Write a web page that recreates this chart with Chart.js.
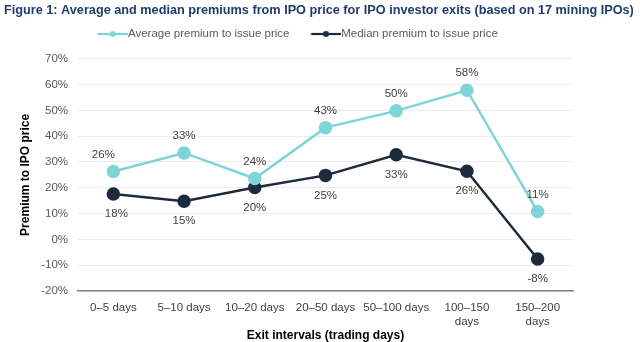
<!DOCTYPE html>
<html><head><meta charset="utf-8">
<script src="https://cdn.jsdelivr.net/npm/chart.js@4/dist/chart.umd.min.js"></script>
<style>html,body{margin:0;padding:0;background:#fff}#wrap{width:640px;height:342px}</style>
</head><body><div id="wrap"><canvas id="c" width="640" height="342"></canvas></div>
<script>
const categories = [["0–5 days"], ["5–10 days"], ["10–20 days"], ["20–50 days"], ["50–100 days"], ["100–150", "days"], ["150–200", "days"]];
const averagePremium = [26.3, 33.5, 23.6, 43.3, 49.8, 57.8, 10.8];
const medianPremium = [17.6, 14.8, 20.1, 24.8, 32.8, 26.4, -7.6];
const averageLabels = ["26%", "33%", "24%", "43%", "50%", "58%", "11%"];
const medianLabels = ["18%", "15%", "20%", "25%", "33%", "26%", "-8%"];
const yTicks = [-20, -10, 0, 10, 20, 30, 40, 50, 60, 70];
const titleText = "Figure 1: Average and median premiums from IPO price for IPO investor exits (based on 17 mining IPOs)";

const FONT = "'Liberation Sans', Arial, sans-serif";
const avgColor = "#7fd4d6";
const medColor = "#1d2b3c";

// legend icon: line + small dot, drawn into a canvas used as pointStyle
function legendIcon(color) {
  const c = document.createElement('canvas');
  c.width = 48; c.height = 12;
  const g = c.getContext('2d');
  g.strokeStyle = color; g.lineWidth = 2.2;
  g.beginPath(); g.moveTo(17.5, 6); g.lineTo(48, 6); g.stroke();
  g.fillStyle = color; g.beginPath(); g.arc(32.5, 6, 3, 0, Math.PI * 2); g.fill();
  return c;
}

// fit title font to target width
const mc = document.createElement('canvas').getContext('2d');
let titleSize = 16;
while (titleSize > 8) {
  mc.font = "bold " + titleSize + "px " + FONT;
  if (mc.measureText(titleText).width <= 631) break;
  titleSize -= 0.1;
}

const labelPlugin = {
  id: 'pointLabels',
  afterDatasetsDraw(chart) {
    const ctx = chart.ctx;
    ctx.save();
    ctx.font = "11.5px " + FONT;
    ctx.fillStyle = "#404040";
    ctx.textAlign = "center";
    ctx.textBaseline = "middle";
    const sets = [[0, averageLabels, -17, [-10, 0, 0, 0, 0, 0, 0]], [1, medianLabels, 20, [3, 0, 0, 0, 0, 0, 0]]];
    sets.forEach(([di, labels, dy, dxs]) => {
      const meta = chart.getDatasetMeta(di);
      meta.data.forEach((pt, i) => {
        ctx.fillText(labels[i], pt.x + dxs[i], pt.y + dy);
      });
    });
    ctx.restore();
  }
};

const legendShift = {
  id: 'legendShift',
  afterLayout(chart) {
    const lg = chart.legend;
    if (!lg) return;
    lg.left -= 29; lg.right -= 29;
    lg.top -= 9; lg.bottom -= 9;
  }
};

new Chart(document.getElementById('c'), {
  type: 'line',
  data: {
    labels: categories,
    datasets: [
      { label: "Average premium to issue price", data: averagePremium, borderColor: avgColor, backgroundColor: avgColor,
        borderWidth: 2.5, pointRadius: 5.5, pointHoverRadius: 5.5, pointStyle: 'circle', tension: 0 },
      { label: "Median premium to issue price", data: medianPremium, borderColor: medColor, backgroundColor: medColor,
        borderWidth: 2.5, pointRadius: 5.5, pointHoverRadius: 5.5, pointStyle: 'circle', tension: 0 }
    ]
  },
  options: {
    responsive: false,
    animation: false,
    layout: { padding: { left: 4, right: 2, top: 0, bottom: 0 } },
    plugins: {
      title: { display: true, text: titleText, color: "#1f3c6c", align: 'start',
        font: { family: FONT, size: titleSize, weight: 'bold' }, padding: { top: 3, bottom: 9 } },
      legend: {
        display: true,
        labels: {
          usePointStyle: true, pointStyleWidth: 36, boxHeight: 12,
          color: "#595959", font: { family: FONT, size: 11.5 }, padding: 10,
          generateLabels(chart) {
            return chart.data.datasets.map((ds, i) => ({
              text: ds.label, pointStyle: legendIcon(ds.borderColor), fillStyle: ds.borderColor,
              strokeStyle: ds.borderColor, lineWidth: 0, datasetIndex: i, hidden: false, fontColor: "#595959"
            }));
          }
        }
      },
      tooltip: { enabled: false }
    },
    scales: {
      x: {
        offset: true,
        afterFit(scale) { scale.height = 51; },
        grid: { display: false, drawTicks: false },
        border: { display: true, color: "#808080", width: 1.5 },
        ticks: { color: "#404040", font: { family: FONT, size: 11.5 }, maxRotation: 0, autoSkip: false, padding: 10 },
        title: { display: true, text: "Exit intervals (trading days)", color: "#000", font: { family: FONT, size: 12, weight: 'bold', lineHeight: 1 }, padding: { top: -3, bottom: 0 } }
      },
      y: {
        min: -20, max: 70,
        afterBuildTicks(scale) { scale.ticks = yTicks.map(v => ({ value: v })); },
        afterFit(scale) { scale.width = 74; },
        grid: { color: "#ececec", lineWidth: 1, drawTicks: false },
        border: { display: false },
        ticks: { color: "#595959", font: { family: FONT, size: 11.5 }, padding: 10, callback: v => v + "%" },
        title: { display: true, text: "Premium to IPO price", color: "#000", font: { family: FONT, size: 12, weight: 'bold' }, padding: { top: 14, bottom: 0 } }
      },
      yRight: {
        position: 'right', min: -20, max: 70,
        afterFit(scale) { scale.width = 65; },
        grid: { display: false, drawTicks: false },
        border: { display: false },
        ticks: { display: false }
      }
    }
  },
  plugins: [labelPlugin, legendShift]
});
</script>
</body></html>
